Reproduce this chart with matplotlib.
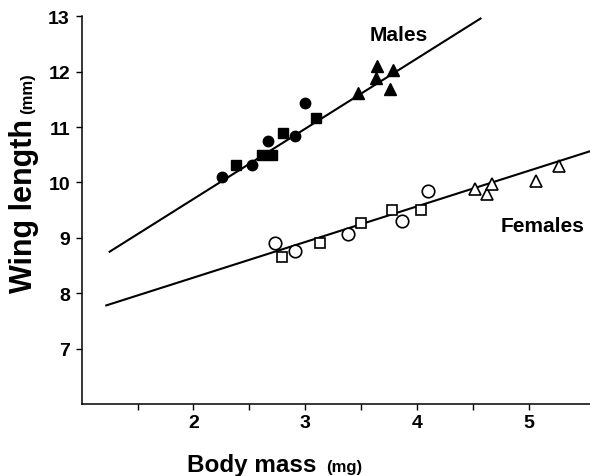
import matplotlib
matplotlib.use('Agg')
from matplotlib import pyplot as plt

plt.rcParams['font.family'] = ['Liberation Sans', 'DejaVu Sans']
plt.rcParams['font.weight'] = 'bold'

# males
m_circle_x = [2.26, 2.52, 2.67, 2.91, 3.00]
m_circle_y = [10.10, 10.32, 10.74, 10.84, 11.44]
m_square_x = [2.38, 2.61, 2.70, 2.80, 3.10]
m_square_y = [10.32, 10.49, 10.49, 10.89, 11.16]
m_tri_x = [3.47, 3.64, 3.63, 3.79, 3.76]
m_tri_y = [11.61, 12.11, 11.89, 12.03, 11.68]

# females
f_circle_x = [2.73, 2.91, 3.38, 3.87, 4.10]
f_circle_y = [8.91, 8.76, 9.07, 9.30, 9.85]
f_square_x = [2.79, 3.13, 3.50, 3.78, 4.04]
f_square_y = [8.65, 8.91, 9.27, 9.50, 9.51]
f_tri_x = [4.52, 4.63, 4.67, 5.07, 5.27]
f_tri_y = [9.89, 9.80, 9.97, 10.02, 10.30]

# fitted lines (end points)
m_fit_x = [1.25, 4.57]
m_fit_y = [8.75, 12.96]
f_fit_x = [1.22, 5.56]
f_fit_y = [7.78, 10.57]

x_ticks = [2, 3, 4, 5]
x_minor = [1.5, 2.5, 3.5, 4.5]
y_ticks = [7, 8, 9, 10, 11, 12, 13]


def main():
    fig = plt.figure(figsize=(5.9, 4.77), dpi=100)
    ax = fig.add_axes([0.1385, 0.151, 0.8615, 0.8127])

    ax.plot(m_fit_x, m_fit_y, color='black', lw=1.5)
    ax.plot(f_fit_x, f_fit_y, color='black', lw=1.5)

    ax.plot(m_circle_x, m_circle_y, 'o', color='black', ms=7.5, ls='none')
    ax.plot(m_square_x, m_square_y, 's', color='black', ms=6.5, ls='none')
    ax.plot(m_tri_x, m_tri_y, '^', color='black', ms=9, ls='none')

    ax.plot(f_circle_x, f_circle_y, 'o', mfc='white', mec='black', mew=1.2, ms=9, ls='none')
    ax.plot(f_square_x, f_square_y, 's', mfc='white', mec='black', mew=1.2, ms=7, ls='none')
    ax.plot(f_tri_x, f_tri_y, '^', mfc='white', mec='black', mew=1.2, ms=8.5, ls='none')

    ax.set_xlim(1.0, 5.55)
    ax.set_ylim(6.0, 13.0)
    ax.set_xticks(x_ticks)
    ax.set_xticks(x_minor, minor=True)
    ax.set_yticks(y_ticks)
    ax.tick_params(axis='both', which='both', direction='out', length=4.5, width=1,
                   labelsize=14, colors='black')
    ax.tick_params(axis='x', pad=3)
    ax.tick_params(axis='y', pad=4)
    for lab in ax.get_xticklabels() + ax.get_yticklabels():
        lab.set_fontweight('bold')
    ax.spines['top'].set_visible(False)
    ax.spines['right'].set_visible(False)
    for s in ['left', 'bottom']:
        ax.spines[s].set_linewidth(1.1)

    ax.text(3.58, 12.68, 'Males', fontsize=15, fontweight='bold', va='center', ha='left')
    ax.text(4.75, 9.22, 'Females', fontsize=15, fontweight='bold', va='center', ha='left')

    # axis labels
    fig.text(187 / 590, 1 - 472 / 477, 'Body mass', fontsize=17.5, fontweight='bold',
             ha='left', va='baseline')
    fig.text(326 / 590, 1 - 472 / 477, '(mg)', fontsize=12, fontweight='bold',
             ha='left', va='baseline')
    fig.text(32 / 590, 1 - 293 / 477, 'Wing length', fontsize=22, fontweight='bold',
             rotation=90, rotation_mode='anchor', ha='left', va='baseline')
    fig.text(32 / 590, 1 - 114 / 477, '(mm)', fontsize=12, fontweight='bold',
             rotation=90, rotation_mode='anchor', ha='left', va='baseline')

    fig.savefig('out.png', dpi=100)


if __name__ == '__main__':
    main()
